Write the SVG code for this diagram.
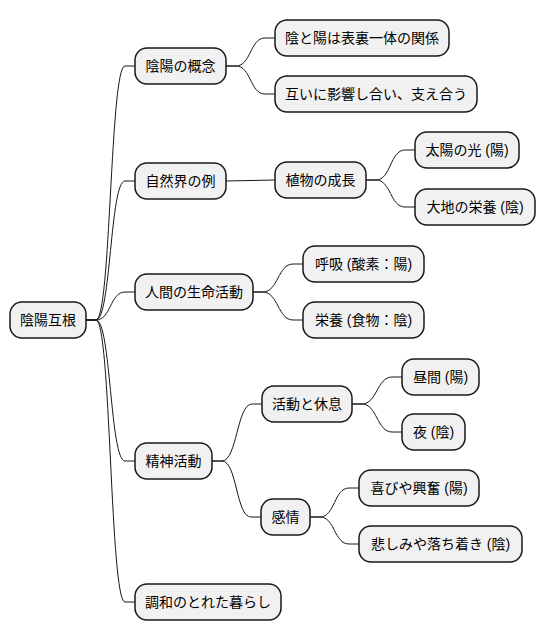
<svg xmlns="http://www.w3.org/2000/svg" width="546" height="640" viewBox="0 0 546 640">
<style>
.n rect{fill:#F1F1F1;stroke:#181818;stroke-width:1.5}
.n text{font-family:"Liberation Sans","Noto Sans CJK JP",sans-serif;font-size:14px;fill:#000}
.c path{fill:none;stroke:#181818;stroke-width:1}
</style>
<rect width="546" height="640" fill="#FFFFFF"/>
<g class="c" id="connectors">
<path d="M86 320 L96 320 C111 320 110 66 125 66 L135 66"/>
<path d="M86 320 L96 320 C111 320 110 181 125 181 L135 181"/>
<path d="M86 320 L96 320 C111 320 110 292 125 292 L135 292"/>
<path d="M86 320 L96 320 C111 320 110 461 125 461 L135 461"/>
<path d="M86 320 L96 320 C111 320 110 602 125 602 L135 602"/>
<path d="M226 66 L236 66 C251 66 250 38 265 38 L275 38"/>
<path d="M226 66 L236 66 C251 66 250 94 265 94 L275 94"/>
<path d="M226 181 L275 180"/>
<path d="M366 180 L376 180 C391 180 390 150 405 150 L415 150"/>
<path d="M366 180 L376 180 C391 180 390 207 405 207 L415 207"/>
<path d="M253 292 L263 292 C278 292 278 264 293 264 L303 264"/>
<path d="M253 292 L263 292 C278 292 278 320 293 320 L303 320"/>
<path d="M212 461 L222 461 C237 461 237 404 252 404 L262 404"/>
<path d="M212 461 L222 461 C237 461 236 517 251 517 L261 517"/>
<path d="M352 404 L362 404 C377 404 377 377 392 377 L402 377"/>
<path d="M352 404 L362 404 C377 404 377 432 392 432 L402 432"/>
<path d="M310 517 L320 517 C335 517 334 488 349 488 L359 488"/>
<path d="M310 517 L320 517 C335 517 334 544 349 544 L359 544"/>
</g>
<g class="n" id="root"><rect x="10" y="302" width="76" height="36" rx="12"/><text x="48" y="325" text-anchor="middle">陰陽互根</text></g>
<g class="n" id="gainen"><rect x="135" y="48" width="91" height="36" rx="12"/><text x="180.5" y="71" text-anchor="middle">陰陽の概念</text></g>
<g class="n" id="hyouri"><rect x="275" y="20" width="174" height="36" rx="12"/><text x="362" y="43" text-anchor="middle">陰と陽は表裏一体の関係</text></g>
<g class="n" id="sasae"><rect x="275" y="76" width="202" height="36" rx="12"/><text x="376" y="99" text-anchor="middle">互いに影響し合い、支え合う</text></g>
<g class="n" id="shizen"><rect x="135" y="163" width="91" height="36" rx="12"/><text x="180.5" y="186" text-anchor="middle">自然界の例</text></g>
<g class="n" id="shokubutsu"><rect x="275" y="162" width="91" height="36" rx="12"/><text x="320.5" y="185" text-anchor="middle">植物の成長</text></g>
<g class="n" id="taiyou"><rect x="415" y="132" width="104" height="36" rx="12"/><text x="467" y="155" text-anchor="middle">太陽の光 (陽)</text></g>
<g class="n" id="daichi"><rect x="415" y="189" width="120" height="36" rx="12"/><text x="475" y="212" text-anchor="middle">大地の栄養 (陰)</text></g>
<g class="n" id="ningen"><rect x="135" y="274" width="118" height="36" rx="12"/><text x="194" y="297" text-anchor="middle">人間の生命活動</text></g>
<g class="n" id="kokyuu"><rect x="303" y="246" width="121" height="36" rx="12"/><text x="363.5" y="269" text-anchor="middle">呼吸 (酸素：陽)</text></g>
<g class="n" id="eiyou"><rect x="303" y="302" width="121" height="36" rx="12"/><text x="363.5" y="325" text-anchor="middle">栄養 (食物：陰)</text></g>
<g class="n" id="seishin"><rect x="135" y="443" width="77" height="36" rx="12"/><text x="173.5" y="466" text-anchor="middle">精神活動</text></g>
<g class="n" id="katsudou"><rect x="262" y="386" width="90" height="36" rx="12"/><text x="307" y="409" text-anchor="middle">活動と休息</text></g>
<g class="n" id="hiruma"><rect x="402" y="359" width="77" height="36" rx="12"/><text x="440.5" y="382" text-anchor="middle">昼間 (陽)</text></g>
<g class="n" id="yoru"><rect x="402" y="414" width="63" height="36" rx="12"/><text x="433.5" y="437" text-anchor="middle">夜 (陰)</text></g>
<g class="n" id="kanjou"><rect x="261" y="499" width="49" height="36" rx="12"/><text x="285.5" y="522" text-anchor="middle">感情</text></g>
<g class="n" id="yorokobi"><rect x="359" y="470" width="120" height="36" rx="12"/><text x="419" y="493" text-anchor="middle">喜びや興奮 (陽)</text></g>
<g class="n" id="kanashimi"><rect x="359" y="526" width="163" height="36" rx="12"/><text x="440.5" y="549" text-anchor="middle">悲しみや落ち着き (陰)</text></g>
<g class="n" id="chouwa"><rect x="135" y="584" width="146" height="36" rx="12"/><text x="208" y="607" text-anchor="middle">調和のとれた暮らし</text></g>
</svg>
